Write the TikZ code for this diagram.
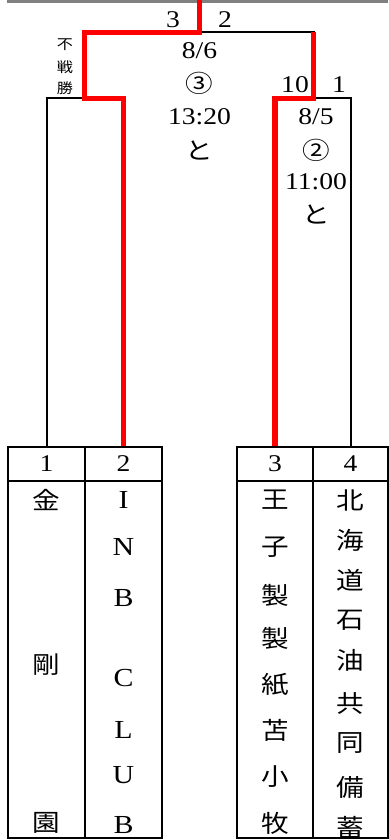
\documentclass[tikz,border=0pt]{standalone}
\usepackage{fontspec}
\setmainfont{Liberation Serif}[FakeStretch=1.15]
\newfontfamily\jp{Noto Sans CJK JP}[FakeStretch=1.15]
\begin{document}
\begin{tikzpicture}[x=1pt, y=-1pt,
  win/.style={red, line width=5.5pt},
  lose/.style={black, line width=2pt},
  cell/.style={draw, line width=2.4pt, inner sep=0pt},
  num/.style={font=\fontsize{24}{27}\selectfont},
  kanji/.style={font=\jp\fontsize{24}{28}\selectfont},
  latin/.style={font=\fontsize{26}{30}\selectfont},
  small/.style={font=\jp\fontsize{14}{16}\selectfont}]
\useasboundingbox (0,0) rectangle (388,840);
\draw[black!50, line width=2.7pt] (7,1.3) -- (388,1.3);
% team cells
\node[cell, num, minimum width=77pt, minimum height=34pt](h1) at (46.5,464) {1};
\node[cell, num, minimum width=77pt, minimum height=34pt](h2) at (123.5,464) {2};
\node[cell, num, minimum width=76pt, minimum height=34pt](h3) at (275,464) {3};
\node[cell, num, minimum width=75pt, minimum height=34pt](h4) at (350.5,464) {4};
\node[cell, minimum width=77pt, minimum height=357pt](b1) at (46.5,659.5) {};
\node[cell, minimum width=77pt, minimum height=357pt](b2) at (123.5,659.5) {};
\node[cell, minimum width=76pt, minimum height=357pt](b3) at (275,659.5) {};
\node[cell, minimum width=75pt, minimum height=357pt](b4) at (350.5,659.5) {};
\foreach \c/\y [count=\i] in {金/500,剛/665,園/823}
  \node[kanji](a\i) at (46.5,\y) {\c};
\foreach \c/\y [count=\i] in {I/500,N/547,B/598,C/678,L/730,U/775,B/825}
  \node[latin](b\i) at (123.5,\y) {\c};
\foreach \c/\y [count=\i] in {王/500,子/547,製/595,製/638,紙/685,苫/730,小/777,牧/823}
  \node[kanji](c\i) at (275,\y) {\c};
\foreach \c/\y [count=\i] in {北/500,海/540,道/580,石/620,油/660,共/703,同/743,備/787,蓄/827}
  \node[kanji](d\i) at (350.5,\y) {\c};
% bracket
\coordinate(top) at (199.5,0);
\coordinate(F) at (199.5,32.5);
\coordinate(SL) at (84.5,98.5);
\coordinate(SR) at (313.5,98.5);
\draw[lose] (F) -| (SR);
\draw[lose] (SL) -| (h1.north);
\draw[lose] (SR) -| (h4.north);
\draw[win] (top) -- (F) -| (SL) -| (h2.north);
\draw[win] (SR |- F) -- (SR) -| (h3.north);
% scores and match info
\node[num](f3) at (173,20) {3};
\node[num](f2) at (225,20) {2};
\node[small](w1) at (65,45) {不};
\node[small](w2) at (65,67) {戦};
\node[small](w3) at (65,88) {勝};
\node[num](m1) at (199.5,51) {8/6};
\node[kanji](m2) at (199.5,83) {③};
\node[num](m3) at (199.5,117) {13:20};
\node[kanji](m4) at (199.5,150) {と};
\node[num](r10) at (295,85) {10};
\node[num](r1) at (339,85) {1};
\node[num](n1) at (316,117) {8/5};
\node[kanji](n2) at (316,150) {②};
\node[num](n3) at (316,182) {11:00};
\node[kanji](n4) at (316,214) {と};
\end{tikzpicture}
\end{document}
